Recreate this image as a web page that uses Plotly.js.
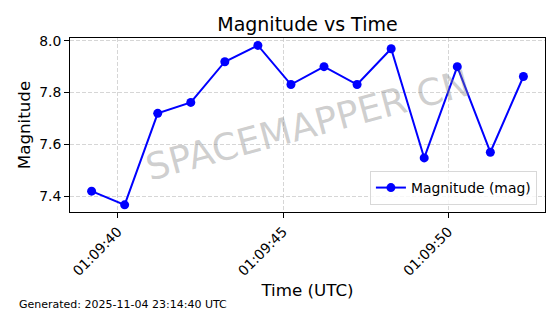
<!DOCTYPE html>
<html><head><meta charset="utf-8">
<script src="https://cdn.plot.ly/plotly-3.0.1.min.js"></script>
<style>html,body{margin:0;padding:0;background:#fff}#c{width:560px;height:314px}</style>
</head><body><div id="c"></div>
<script>
const times = ["2025-11-04 01:09:39.206","2025-11-04 01:09:40.206","2025-11-04 01:09:41.206","2025-11-04 01:09:42.206","2025-11-04 01:09:43.236","2025-11-04 01:09:44.236","2025-11-04 01:09:45.236","2025-11-04 01:09:46.236","2025-11-04 01:09:47.236","2025-11-04 01:09:48.267","2025-11-04 01:09:49.267","2025-11-04 01:09:50.267","2025-11-04 01:09:51.267","2025-11-04 01:09:52.267"];
const magnitudes = [7.42, 7.367, 7.72, 7.762, 7.919, 7.982, 7.831, 7.90, 7.831, 7.969, 7.548, 7.90, 7.57, 7.862];
const xRange = ["2025-11-04 01:09:38.553","2025-11-04 01:09:52.92"];
const yRange = [7.3395, 8.0105];
const tickVals = ["2025-11-04 01:09:40","2025-11-04 01:09:45","2025-11-04 01:09:50"];
const tickText = ["01:09:40","01:09:45","01:09:50"];
const yTicks = [7.4, 7.6, 7.8, 8.0];
const yTickText = ["7.4","7.6","7.8","8.0"];
const F = "DejaVu Sans, sans-serif";

Plotly.newPlot("c", [{
  x: times, y: magnitudes, type: "scatter", mode: "lines+markers",
  name: "Magnitude (mag)",
  line: {color: "#0000ff", width: 2},
  marker: {color: "#0000ff", size: 9}
}], {
  width: 560, height: 314,
  margin: {l: 70, r: 15, t: 38, b: 102},
  paper_bgcolor: "#fff", plot_bgcolor: "#fff",
  font: {family: F, color: "#000", size: 13.9},
  title: {text: "Magnitude vs Time", font: {family: F, size: 19, color: "#000"}, x: 0.549, xanchor: "center", y: 0.924, yanchor: "middle"},
  xaxis: {
    type: "date", range: xRange, tickvals: tickVals, ticktext: tickText, tickangle: -45,
    showline: true, linecolor: "#000", linewidth: 1, mirror: true,
    ticks: "outside", ticklen: 5, tickcolor: "#000",
    showgrid: true, gridcolor: "#cccccc", griddash: "4px,2px", gridwidth: 0.8, zeroline: false,
    tickfont: {family: F, size: 13.9},
    title: {text: "Time (UTC)", font: {family: F, size: 16.7}, standoff: 6}
  },
  yaxis: {
    range: yRange, tickvals: yTicks, ticktext: yTickText,
    showline: true, linecolor: "#000", linewidth: 1, mirror: true,
    ticks: "outside", ticklen: 5, tickcolor: "#000",
    showgrid: true, gridcolor: "#cccccc", griddash: "4px,2px", gridwidth: 0.8, zeroline: false,
    tickfont: {family: F, size: 13.9},
    title: {text: "Magnitude", font: {family: F, size: 16.7}, standoff: 4}
  },
  showlegend: true,
  legend: {x: 0.983, y: 0.04, xanchor: "right", yanchor: "bottom",
    bgcolor: "rgba(255,255,255,0.8)", bordercolor: "#d8d8d8", borderwidth: 1,
    font: {family: F, size: 13.9}, itemwidth: 30},
  annotations: [
    {text: "SPACEMAPPER CN", xref: "paper", yref: "paper", x: 0.5, y: 0.5, showarrow: false,
     textangle: -15, font: {family: F, size: 37, color: "rgba(128,128,128,0.38)"}},
    {text: "Generated: 2025-11-04 23:14:40 UTC", xref: "paper", yref: "paper", x: -0.1116, y: -0.534,
     xanchor: "left", yanchor: "middle", showarrow: false, font: {family: F, size: 11, color: "#000"}}
  ]
}, {displayModeBar: false, staticPlot: true});
</script></body></html>
